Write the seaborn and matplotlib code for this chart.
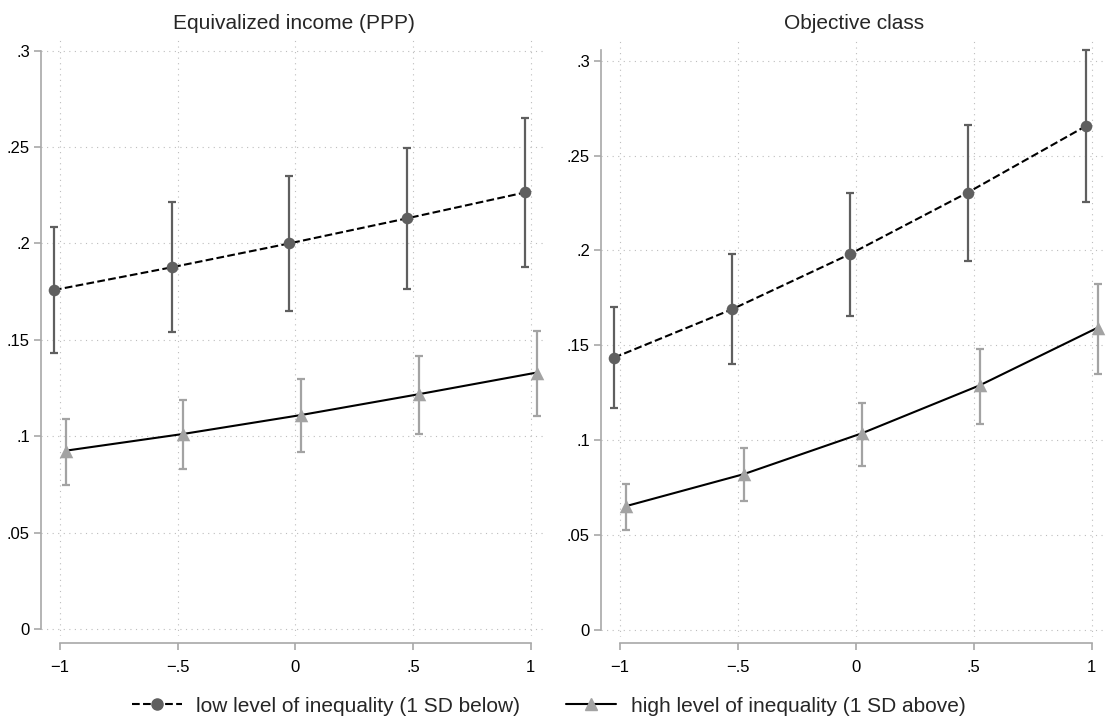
import matplotlib
matplotlib.use("Agg")
import matplotlib.pyplot as plt
from matplotlib.lines import Line2D
import seaborn as sns

# x values (at-values of the moderator) and tick labels
at_values = [-1, -0.5, 0, 0.5, 1]
x_tick_labels = ["\u22121", "\u2212.5", "0", ".5", "1"]
y_ticks = [0, 0.05, 0.1, 0.15, 0.2, 0.25, 0.3]
y_tick_labels = ["0", ".05", ".1", ".15", ".2", ".25", ".3"]

panel_titles = ["Equivalized income (PPP)", "Objective class"]
series_labels = ["low level of inequality (1 SD below)",
                 "high level of inequality (1 SD above)"]

# Equivalized income panel
income_low = [0.1758, 0.1876, 0.2000, 0.2130, 0.2264]
income_low_lo = [0.1433, 0.1540, 0.1651, 0.1762, 0.1877]
income_low_hi = [0.2086, 0.2214, 0.2352, 0.2497, 0.2650]
income_high = [0.0925, 0.1012, 0.1110, 0.1218, 0.1330]
income_high_lo = [0.0749, 0.0832, 0.0920, 0.1012, 0.1107]
income_high_hi = [0.1090, 0.1188, 0.1295, 0.1416, 0.1547]

# Objective class panel
class_low = [0.1434, 0.1689, 0.1980, 0.2305, 0.2655]
class_low_lo = [0.1168, 0.1399, 0.1655, 0.1943, 0.2256]
class_low_hi = [0.1700, 0.1981, 0.2302, 0.2662, 0.3057]
class_high = [0.0651, 0.0820, 0.1035, 0.1288, 0.1592]
class_high_lo = [0.0523, 0.0676, 0.0862, 0.1082, 0.1348]
class_high_hi = [0.0769, 0.0959, 0.1196, 0.1480, 0.1824]

sns.set_theme(style="white")
plt.rcParams["font.family"] = ["Liberation Sans", "DejaVu Sans"]

DARK = "#5f5f5f"
LIGHT = "#a3a3a3"
AXIS = "#a8a8a8"
GRID = "#bdbdbd"
OFFSET = 0.025

fig = plt.figure(figsize=(11.13, 7.23), dpi=100)
W, H = 1113, 723
ax_left = fig.add_axes([41 / W, 1 - 636 / H, 505 / W, 597 / H])
ax_right = fig.add_axes([601 / W, 1 - 636.5 / H, 506 / W, 598 / H])

panels = [
    (ax_left, panel_titles[0],
     (income_low, income_low_lo, income_low_hi),
     (income_high, income_high_lo, income_high_hi)),
    (ax_right, panel_titles[1],
     (class_low, class_low_lo, class_low_hi),
     (class_high, class_high_lo, class_high_hi)),
]

for ax, title, low, high in panels:
    styles = [(low, -OFFSET, DARK, "o", "--", 70),
              (high, OFFSET, LIGHT, "^", "-", 95)]
    for (est, lo, hi), dx, col, mk, ls, area in styles:
        xs = [x + dx for x in at_values]
        yerr = [[e - l for e, l in zip(est, lo)], [h - e for e, h in zip(est, hi)]]
        ax.errorbar(xs, est, yerr=yerr, fmt="none", ecolor=col, elinewidth=1.6,
                    capsize=3.2, capthick=1.6, zorder=2)
        sns.lineplot(x=xs, y=est, ax=ax, color="black", linestyle=ls,
                     linewidth=1.5, zorder=3, legend=False)
        sns.scatterplot(x=xs, y=est, ax=ax, color=col, marker=mk, s=area,
                        linewidth=0, zorder=4, legend=False)

    top = max(0.3, max(low[2]), max(high[2]))
    ax.set_xlim(-1.08, 1.065)
    ax.set_ylim(-0.0036, top + 0.006)
    ax.set_xticks(at_values)
    ax.set_xticklabels(x_tick_labels)
    ax.set_yticks(y_ticks)
    ax.set_yticklabels(y_tick_labels)

    ax.grid(True, linestyle=(0, (1, 4)), color=GRID, linewidth=0.8)
    ax.set_axisbelow(True)
    for s in ["top", "right"]:
        ax.spines[s].set_visible(False)
    ax.spines["left"].set_bounds(0, top)
    ax.spines["bottom"].set_bounds(-1, 1)
    ax.spines["bottom"].set_position(("outward", 5))
    for s in ["left", "bottom"]:
        ax.spines[s].set_color(AXIS)
        ax.spines[s].set_linewidth(1.2)
    ax.tick_params(axis="both", which="major", length=5, width=1.2, color=AXIS,
                   labelsize=12, labelcolor="black", left=True, bottom=True)
    ax.tick_params(axis="x", pad=7)
    ax.tick_params(axis="y", pad=3)
    ax.set_title(title, fontsize=15, pad=7)
    ax.set_xlabel("")
    ax.set_ylabel("")

handles = [
    Line2D([], [], color="black", linestyle="--", linewidth=1.5, marker="o",
           markersize=8, markerfacecolor=DARK, markeredgecolor=DARK),
    Line2D([], [], color="black", linestyle="-", linewidth=1.5, marker="^",
           markersize=9, markerfacecolor=LIGHT, markeredgecolor=LIGHT),
]
fig.legend(handles, series_labels, loc="center", bbox_to_anchor=(0.493, 1 - 706 / H),
           ncol=2, frameon=False, fontsize=15, handlelength=2.4, handletextpad=0.7,
           columnspacing=2.2)

fig.savefig("out.png", dpi=100)
